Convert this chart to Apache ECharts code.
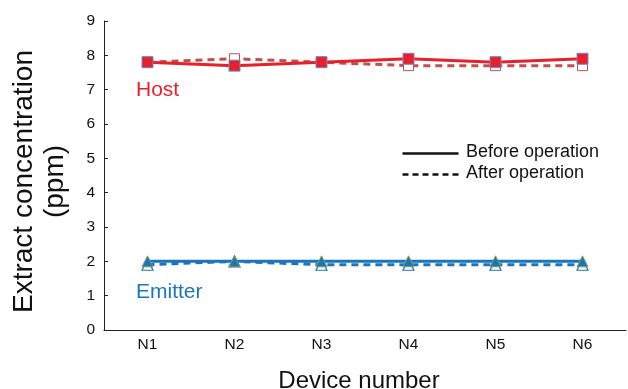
<!DOCTYPE html>
<html><head><meta charset="utf-8">
<script src="https://cdn.jsdelivr.net/npm/echarts@6/dist/echarts.min.js"></script>
<style>html,body{margin:0;padding:0;background:#fff}#c{width:628px;height:389px}</style>
</head><body><div id="c"></div>
<script>
var categories = ['N1','N2','N3','N4','N5','N6'];
var hostBefore = [7.8, 7.7, 7.8, 7.9, 7.8, 7.9];
var hostAfter = [7.8, 7.9, 7.8, 7.7, 7.7, 7.7];
var emitterBefore = [2.0, 2.0, 2.0, 2.0, 2.0, 2.0];
var emitterAfter = [1.9, 2.0, 1.9, 1.9, 1.9, 1.9];
var yTicks = [0,1,2,3,4,5,6,7,8,9];
var legendNames = ['Before operation', 'After operation'];
var groupNames = ['Host', 'Emitter'];

var FONT = 'Liberation Sans, Arial, sans-serif';
var chart = echarts.init(document.getElementById('c'));
chart.setOption({
  animation: false,
  grid: {left: 104, right: 2, top: 21, bottom: 59, outerBoundsMode: 'none', containLabel: false},
  xAxis: {
    type: 'category', data: categories, boundaryGap: true,
    axisLine: {lineStyle: {color: '#222', width: 1}},
    axisTick: {show: false},
    axisLabel: {color: '#111', fontSize: 15.5, fontFamily: FONT, margin: 7},
    name: 'Device number', nameLocation: 'middle', nameGap: 39,
    nameTextStyle: {color: '#111', fontSize: 24, fontFamily: FONT, padding: [0, 12, 0, 0]}
  },
  yAxis: {
    type: 'value', min: yTicks[0], max: yTicks[yTicks.length-1], interval: 1,
    axisLine: {show: true, lineStyle: {color: '#222', width: 1}},
    axisTick: {show: true, inside: true, length: 4, lineStyle: {color: '#222'}},
    splitLine: {show: false},
    axisLabel: {color: '#111', fontSize: 15.5, fontFamily: FONT, margin: 9},
    name: 'Extract concentration\n(ppm)', nameLocation: 'middle', nameGap: 33,
    nameTextStyle: {color: '#111', fontSize: 28, fontFamily: FONT, lineHeight: 31, padding: [0, 12, 0, 0]}
  },
  graphic: [
    {type: 'text', left: 136, top: 80, style: {text: groupNames[0], fill: '#e8202a', font: '21px Liberation Sans, Arial, sans-serif'}},
    {type: 'text', left: 136, top: 282, style: {text: groupNames[1], fill: '#1a75bc', font: '21px Liberation Sans, Arial, sans-serif'}},
    {type: 'line', left: 400, top: 151, shape: {x1: 0, y1: 0, x2: 56, y2: 0}, style: {stroke: '#111', lineWidth: 2.5}},
    {type: 'line', left: 400, top: 172, shape: {x1: 0, y1: 0, x2: 56, y2: 0}, style: {stroke: '#111', lineWidth: 2.5, lineDash: [6, 4]}},
    {type: 'text', left: 466, top: 143, style: {text: legendNames[0], fill: '#111', font: '18px Liberation Sans, Arial, sans-serif'}},
    {type: 'text', left: 466, top: 164, style: {text: legendNames[1], fill: '#111', font: '18px Liberation Sans, Arial, sans-serif'}}
  ],
  series: [
    {type: 'line', data: hostAfter, z: 2, symbol: 'rect', symbolSize: 10,
      lineStyle: {color: '#c0504d', width: 3, type: [7, 5]},
      itemStyle: {color: '#fff', borderColor: '#c0504d', borderWidth: 1}},
    {type: 'line', data: hostBefore, z: 3, symbol: 'rect', symbolSize: 11,
      lineStyle: {color: '#e8202a', width: 3},
      itemStyle: {color: '#e8202a', borderColor: '#6a8ccc', borderWidth: 1}},
    {type: 'line', data: emitterAfter, z: 2, symbol: 'triangle', symbolSize: 11,
      lineStyle: {color: '#1a75bc', width: 3, type: [7, 5]},
      itemStyle: {color: '#fff', borderColor: '#1a75bc', borderWidth: 1.2}},
    {type: 'line', data: emitterBefore, z: 3, symbol: 'triangle', symbolSize: 11,
      lineStyle: {color: '#1a75bc', width: 3},
      itemStyle: {color: '#1a75bc', borderColor: '#8aa04a', borderWidth: 1}}
  ]
});
</script></body></html>
